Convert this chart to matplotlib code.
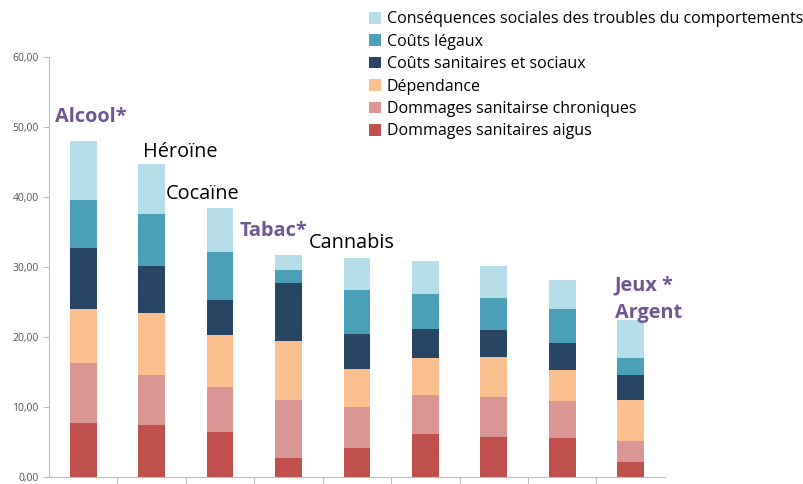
import matplotlib
matplotlib.use("Agg")
import matplotlib.pyplot as plt
import numpy as np
from matplotlib.ticker import FuncFormatter

# categories (bars), left to right
substances = ['Alcool', 'Héroïne', 'Cocaïne', 'Tabac', 'Cannabis', 'S6', 'S7', 'S8', 'Jeux Argent']

# segment values, bottom to top
aigus      = [7.75, 7.4, 6.4, 2.65, 4.1, 6.15, 5.75, 5.55, 2.1]
chroniques = [8.5, 7.2, 6.45, 8.3, 5.9, 5.55, 5.7, 5.3, 3.0]
dependance = [7.8, 8.8, 7.45, 8.45, 5.5, 5.25, 5.75, 4.5, 5.95]
sanitaires = [8.65, 6.7, 5.0, 8.3, 5.0, 4.15, 3.85, 3.85, 3.5]
legaux     = [6.9, 7.5, 6.8, 1.9, 6.15, 5.0, 4.55, 4.85, 2.4]
sociales   = [8.4, 7.1, 6.35, 2.15, 4.65, 4.7, 4.5, 4.1, 5.45]

series = [aigus, chroniques, dependance, sanitaires, legaux, sociales]
names = ['Dommages sanitaires aigus', 'Dommages sanitairse chroniques', 'Dépendance',
         'Coûts sanitaires et sociaux', 'Coûts légaux',
         'Conséquences sociales des troubles du comportements']
colors = ['#C0504D', '#DA9694', '#FAC090', '#284664', '#4BA0B8', '#B7DEE8']

plt.rcParams['font.family'] = ['Open Sans', 'DejaVu Sans']

fig = plt.figure(figsize=(8.04, 4.84), dpi=100)
ax = fig.add_axes([0.061, 0.0145, 0.766, 0.8675])

x = np.arange(len(substances))
bottom = np.zeros(len(substances))
handles = []
for vals, name, c in zip(series, names, colors):
    b = ax.bar(x, vals, width=0.39, bottom=bottom, color=c, label=name)
    handles.append(b)
    bottom += np.array(vals)

ax.set_xlim(-0.5, len(substances) - 0.5)
ax.set_ylim(0, 60)
ax.set_yticks(np.arange(0, 61, 10))
ax.yaxis.set_major_formatter(FuncFormatter(lambda v, p: f'{v:.2f}'.replace('.', ',')))
ax.tick_params(axis='y', labelsize=7.5, labelcolor='#555555', color='#BFBFBF', length=4)
ax.set_xticks(np.arange(len(substances) - 1) + 0.5)
ax.set_xticklabels([])
ax.tick_params(axis='x', color='#BFBFBF', length=5)
for s in ['top', 'right']:
    ax.spines[s].set_visible(False)
for s in ['left', 'bottom']:
    ax.spines[s].set_color('#BFBFBF')

purple = '#6F5891'
fs = 14.3
ax.text(-0.41, 51.4, 'Alcool*', color=purple, fontsize=fs, fontweight='bold', va='center')
ax.text(0.87, 46.5, 'Héroïne', color='black', fontsize=fs, va='center')
ax.text(1.21, 40.5, 'Cocaïne', color='black', fontsize=fs, va='center')
ax.text(2.29, 35.2, 'Tabac*', color=purple, fontsize=fs, fontweight='bold', va='center')
ax.text(3.29, 33.4, 'Cannabis', color='black', fontsize=fs, va='center')
ax.text(7.77, 27.3, 'Jeux *', color=purple, fontsize=fs, fontweight='bold', va='center')
ax.text(7.77, 23.5, 'Argent', color=purple, fontsize=fs, fontweight='bold', va='center')

fig.legend(handles[::-1], names[::-1], loc='upper left', bbox_to_anchor=(363 / 804, 1 - 5 / 484),
           frameon=False, fontsize=11.5, handlelength=0.75, handleheight=0.75,
           handletextpad=0.35, labelspacing=0.4, borderaxespad=0)

fig.savefig('out.png', dpi=100)
